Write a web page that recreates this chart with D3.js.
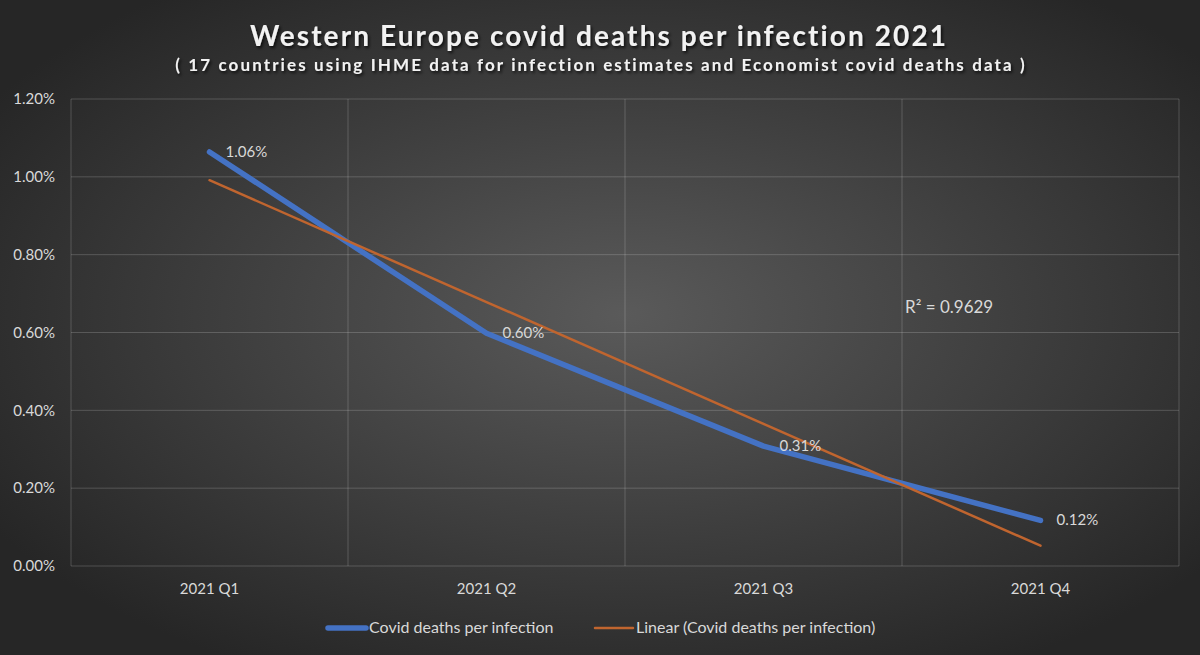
<!DOCTYPE html>
<html>
<head>
<meta charset="utf-8">
<script src="https://cdn.jsdelivr.net/npm/d3@7"></script>
<style>
  html, body { margin: 0; padding: 0; background: #262626; }
  #chart svg { display: block; }
</style>
</head>
<body>
<div id="chart"></div>
<script>
// chart data
var categories = ["2021 Q1", "2021 Q2", "2021 Q3", "2021 Q4"];
var deathsPerInfection = [0.01064, 0.00598, 0.00308, 0.00117];
var yTicks = [0, 0.002, 0.004, 0.006, 0.008, 0.010, 0.012];
var seriesNames = ["Covid deaths per infection", "Linear (Covid deaths per infection)"];
var rSquaredLabel = "R² = 0.9629";

function init(){
    var w = 1200, h = 655;
    var margin = {top: 99, right: 21, bottom: 89, left: 71};
    var font = "Lato, 'Open Sans', sans-serif";
    var textColor = "#d9d9d9";

    var svg = d3.select("#chart").append("svg")
        .attr("width", w)
        .attr("height", h);

    var defs = svg.append("defs");
    var grad = defs.append("radialGradient")
        .attr("id", "bg")
        .attr("cx", "52%").attr("cy", "48%").attr("r", "62%");
    grad.append("stop").attr("offset", "0%").attr("stop-color", "#5a5a5a");
    grad.append("stop").attr("offset", "100%").attr("stop-color", "#262626");

    var shadow = defs.append("filter").attr("id", "shadow")
        .attr("x", "-5%").attr("y", "-30%").attr("width", "110%").attr("height", "160%");
    shadow.append("feDropShadow")
        .attr("dx", 1.5).attr("dy", 2).attr("stdDeviation", 1.5)
        .attr("flood-color", "#000").attr("flood-opacity", 0.75);

    svg.append("rect").attr("width", w).attr("height", h).attr("fill", "url(#bg)");

    var xScale = d3.scaleBand()
        .domain(categories)
        .range([margin.left, w - margin.right]);

    var yScale = d3.scaleLinear()
        .domain([0, 0.012])
        .range([h - margin.bottom, margin.top]);

    var xPos = function(c){ return xScale(c) + xScale.bandwidth() / 2; };

    // horizontal gridlines
    svg.append("g")
        .selectAll("line")
        .data(yTicks)
        .enter()
        .append("line")
        .attr("x1", margin.left)
        .attr("x2", w - margin.right)
        .attr("y1", function(d){ return yScale(d); })
        .attr("y2", function(d){ return yScale(d); })
        .attr("stroke", "#ffffff")
        .attr("stroke-opacity", 0.18)
        .attr("stroke-width", 1);

    // vertical gridlines on category boundaries
    var bounds = categories.map(function(c){ return xScale(c); }).concat([w - margin.right]);
    svg.append("g")
        .selectAll("line")
        .data(bounds)
        .enter()
        .append("line")
        .attr("x1", function(d){ return d; })
        .attr("x2", function(d){ return d; })
        .attr("y1", margin.top)
        .attr("y2", h - margin.bottom)
        .attr("stroke", "#ffffff")
        .attr("stroke-opacity", 0.18)
        .attr("stroke-width", 1);

    // y axis labels
    var yAxis = d3.axisLeft(yScale)
        .tickValues(yTicks)
        .tickSize(0)
        .tickPadding(16)
        .tickFormat(d3.format(".2%"));
    var gy = svg.append("g")
        .attr("transform", "translate(" + margin.left + ",0)")
        .call(yAxis);
    gy.select(".domain").remove();
    gy.selectAll("text")
        .attr("fill", textColor)
        .attr("font-family", font)
        .attr("font-size", 15);

    // x axis labels
    var xAxis = d3.axisBottom(xScale).tickSize(0).tickPadding(17);
    var gx = svg.append("g")
        .attr("transform", "translate(0," + (h - margin.bottom) + ")")
        .call(xAxis);
    gx.select(".domain").remove();
    gx.selectAll("text")
        .attr("fill", textColor)
        .attr("font-family", font)
        .attr("font-size", 15);

    // linear trendline (least squares over category index)
    var xs = deathsPerInfection.map(function(d, i){ return i + 1; });
    var mx = d3.mean(xs), my = d3.mean(deathsPerInfection);
    var slope = d3.sum(xs, function(x, i){ return (x - mx) * (deathsPerInfection[i] - my); }) /
                d3.sum(xs, function(x){ return (x - mx) * (x - mx); });
    var intercept = my - slope * mx;
    var trend = categories.map(function(c, i){ return intercept + slope * (i + 1); });

    var line = d3.line()
        .x(function(d, i){ return xPos(categories[i]); })
        .y(function(d){ return yScale(d); });

    // series line
    svg.append("path")
        .datum(deathsPerInfection)
        .attr("d", line)
        .attr("fill", "none")
        .attr("stroke", "#4472c4")
        .attr("stroke-width", 5.5)
        .attr("stroke-linecap", "round")
        .attr("stroke-linejoin", "round");

    // trendline drawn on top
    svg.append("path")
        .datum(trend)
        .attr("d", line)
        .attr("fill", "none")
        .attr("stroke", "#c0652f")
        .attr("stroke-width", 2.5)
        .attr("stroke-linecap", "round");

    // data labels
    svg.append("g")
        .selectAll("text")
        .data(deathsPerInfection)
        .enter()
        .append("text")
        .text(function(d){ return d3.format(".2%")(d); })
        .attr("x", function(d, i){ return xPos(categories[i]) + 16; })
        .attr("y", function(d){ return yScale(d) + 5; })
        .attr("fill", textColor)
        .attr("font-family", font)
        .attr("font-size", 15);

    // R squared
    svg.append("text")
        .text(rSquaredLabel)
        .attr("x", 905)
        .attr("y", 313)
        .attr("fill", textColor)
        .attr("font-family", font)
        .attr("font-size", 17);

    // title
    svg.append("text")
        .text("Western Europe covid deaths per infection 2021")
        .attr("x", 599)
        .attr("y", 46)
        .attr("text-anchor", "middle")
        .attr("fill", "#f2f2f2")
        .attr("font-family", font)
        .attr("font-weight", "bold")
        .attr("font-size", 28)
        .attr("letter-spacing", 2.1)
        .attr("filter", "url(#shadow)");

    svg.append("text")
        .text("( 17 countries using IHME data for infection estimates and Economist covid deaths data )")
        .attr("x", 601)
        .attr("y", 71)
        .attr("text-anchor", "middle")
        .attr("fill", "#f2f2f2")
        .attr("font-family", font)
        .attr("font-weight", "bold")
        .attr("font-size", 17)
        .attr("letter-spacing", 2.1)
        .attr("filter", "url(#shadow)");

    // legend
    var legend = svg.append("g");
    var legendItems = [
        {name: seriesNames[0], color: "#4472c4", width: 5.5, x: 328},
        {name: seriesNames[1], color: "#c0652f", width: 2.5, x: 595}
    ];
    legendItems.forEach(function(it){
        legend.append("line")
            .attr("x1", it.x).attr("x2", it.x + 38)
            .attr("y1", 628).attr("y2", 628)
            .attr("stroke", it.color)
            .attr("stroke-width", it.width)
            .attr("stroke-linecap", "round");
        legend.append("text")
            .text(it.name)
            .attr("x", it.x + 41)
            .attr("y", 633)
            .attr("fill", textColor)
            .attr("font-family", font)
            .attr("font-size", 16);
    });
}
window.onload = init;
</script>
</body>
</html>
